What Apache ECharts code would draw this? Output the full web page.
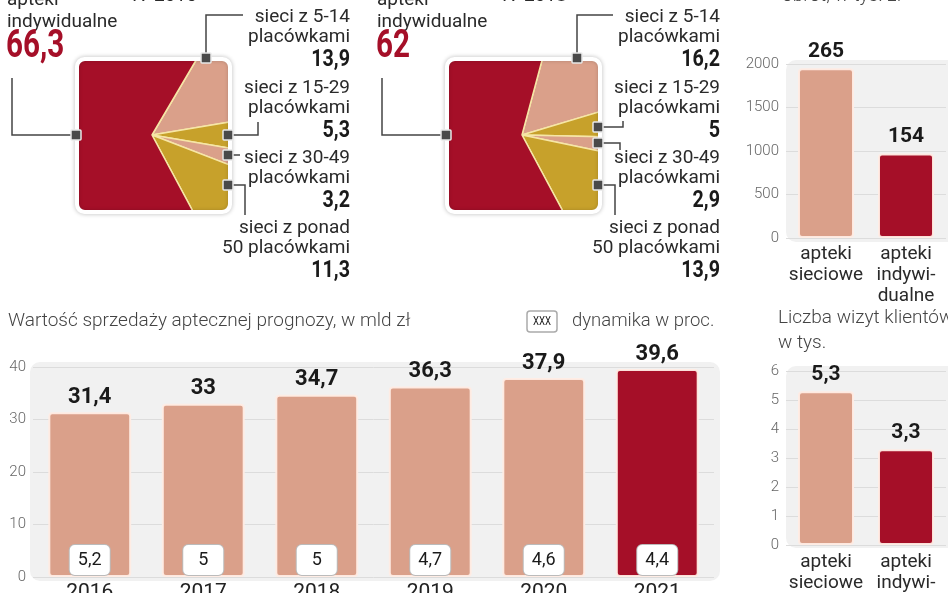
<!DOCTYPE html>
<html><head><meta charset="utf-8">
<script src="https://cdn.jsdelivr.net/npm/echarts@6/dist/echarts.min.js"></script>
<style>html,body{margin:0;padding:0;background:#fff}#c{width:948px;height:593px}</style>
</head><body><div id="c"></div><script>
// ---------- data ----------
const years = ['2016','2017','2018','2019','2020','2021'];
const salesValues = [31.4, 33, 34.7, 36.3, 37.9, 39.6];
const dynamics = [5.2, 5, 5, 4.7, 4.6, 4.4];
const pieCategories = [['sieci z 5-14','placówkami'],['sieci z 15-29','placówkami'],['sieci z 30-49','placówkami'],['sieci z ponad','50 placówkami'],['apteki','indywidualne']];
const pie2015 = [13.9, 5.3, 3.2, 11.3, 66.3];
const pie2018 = [16.2, 5, 2.9, 13.9, 62];
const pieYears = ['IV 2015', 'IV 2018'];
const pharmacyTypes = ['apteki\nsieciowe', 'apteki\nindywi-\ndualne'];
const turnoverValues = [1950, 970];
const turnoverLabels = ['265', '154'];
const visitsValues = [5.3, 3.3];
const salesYAxisTicks = [0, 10, 20, 30, 40];
const turnoverYAxisTicks = [0, 500, 1000, 1500, 2000];
const visitsYAxisTicks = [0, 1, 2, 3, 4, 5, 6];

// ---------- style ----------
const RED = '#A50F28', PINK = '#DAA08A', GOLD = '#C7A12B';
const pieColors = [PINK, GOLD, PINK, GOLD, RED];
const SANS = "Roboto,'Liberation Sans',sans-serif";
const fmt = v => String(v).replace('.', ',');

const chart = echarts.init(document.getElementById('c'), null, {renderer:'canvas'});

// pie layouts (annotation geometry)
const pies = [
  {data: pie2015, dx: 0, startAngle: 59.5,
   markers: [[206,58],[228,135],[228,155],[228,185],[76,135]],
   leaders: [[[206,58],[206,15],[243,15]], [[228,135],[258,135],[258,122]], [[228,155],[240,155]], [[228,185],[245,185],[245,215]], [[76,135],[12,135],[12,78]]]},
  {data: pie2018, dx: 370, startAngle: 75,
   markers: [[577,58],[598,127],[598,143],[598,185],[446,135]],
   leaders: [[[577,58],[577,15],[613,15]], [[598,127],[623,127],[623,121]], [[598,143],[620,143],[620,150]], [[598,185],[615,185],[615,215]], [[446,135],[382,135],[382,78]]]}
];
const SQ = {x:78, y:60, w:151, h:151, r:7};
const PIE_CENTER = [152, 135];
const labelRows = [17, 88, 158, 228]; // first line y of each right-side label block

const series = [];
const graphics = [];

pies.forEach((p, pi) => {
  series.push({
    type:'pie', center:[PIE_CENTER[0]+p.dx, PIE_CENTER[1]], radius:[0,112],
    startAngle:p.startAngle, clockwise:true, silent:true, animation:false, z:2,
    label:{show:false}, labelLine:{show:false},
    itemStyle:{borderColor:'#f6e6a6', borderWidth:1.5},
    data: p.data.map((v,i)=>({name:pieCategories[i].join(' '), value:v, itemStyle:{color:pieColors[i]}}))
  });
  graphics.push({type:'rect', z:50, silent:true,
    shape:{x:SQ.x+p.dx-30, y:SQ.y-30, width:SQ.w+60, height:SQ.h+60, r:SQ.r+30},
    style:{fill:null, stroke:'#fff', lineWidth:60}});
  graphics.push({type:'rect', z:51, silent:true,
    shape:{x:SQ.x+p.dx-1.5, y:SQ.y-1.5, width:SQ.w+3, height:SQ.h+3, r:SQ.r+1},
    style:{fill:null, stroke:'#fff', lineWidth:3, shadowBlur:4, shadowColor:'rgba(0,0,0,0.3)'}});
  graphics.push({type:'rect', z:52, silent:true,
    shape:{x:SQ.x+p.dx, y:SQ.y, width:SQ.w, height:SQ.h, r:SQ.r},
    style:{fill:null, stroke:'#fff', lineWidth:2}});
  p.leaders.forEach(pts => graphics.push({type:'polyline', z:60, silent:true, shape:{points:pts}, style:{stroke:'#444', lineWidth:1.5, fill:null}}));
  p.markers.forEach(m => graphics.push({type:'rect', z:61, silent:true, shape:{x:m[0]-5, y:m[1]-5, width:10, height:10, r:1}, style:{fill:'#4a4a4a', stroke:'#e8e8e8', lineWidth:1.5}}));
  for (let i=0;i<4;i++){
    const y0 = labelRows[i];
    [pieCategories[i][0], pieCategories[i][1]].forEach((t,k)=>graphics.push({type:'text', z:70, x:350+p.dx, y:y0+k*20,
      style:{text:t, font:`19px ${SANS}`, fill:'#2a2a2a', align:'right', verticalAlign:'middle'}}));
    graphics.push({type:'text', z:70, x:350+p.dx, y:y0+43, scaleX:0.82,
      style:{text:fmt(p.data[i]), font:`bold 24px ${SANS}`, fill:'#1a1a1a', align:'right', verticalAlign:'middle'}});
  }
  graphics.push({type:'text', z:70, x:7+p.dx, y:0, style:{text:pieCategories[4][0], font:`19px ${SANS}`, fill:'#2a2a2a', align:'left', verticalAlign:'middle'}});
  graphics.push({type:'text', z:70, x:7+p.dx, y:22, style:{text:pieCategories[4][1], font:`19px ${SANS}`, fill:'#2a2a2a', align:'left', verticalAlign:'middle'}});
  graphics.push({type:'text', z:70, x:6+p.dx, y:47, scaleX:0.76, style:{text:fmt(p.data[4]), font:`bold 39px ${SANS}`, fill:RED, align:'left', verticalAlign:'middle'}});
  graphics.push({type:'text', z:70, x:132+p.dx, y:-4, style:{text:pieYears[pi], font:`19px ${SANS}`, fill:'#2a2a2a', align:'left', verticalAlign:'middle'}});
});

// plot backgrounds
[[30,362,690,219],[786,60,175,182],[786,366,175,182]].forEach(b=>graphics.push({type:'rect', z:-10, silent:true,
  shape:{x:b[0], y:b[1], width:b[2], height:b[3], r:10}, style:{fill:'#f1f1f1'}}));

// titles
graphics.push({type:'text', z:70, x:8, y:321, style:{text:'Wartość sprzedaży aptecznej prognozy, w mld zł', font:`300 19px ${SANS}`, fill:'#444', align:'left', verticalAlign:'middle'}});
graphics.push({type:'rect', z:70, shape:{x:527, y:311, width:30, height:21, r:3}, style:{fill:'#fff', stroke:'#aaa', lineWidth:1.5}});
graphics.push({type:'text', z:71, x:542, y:322, scaleX:0.8, style:{text:'XXX', font:`12px ${SANS}`, fill:'#222', align:'center', verticalAlign:'middle'}});
graphics.push({type:'text', z:70, x:572, y:321, style:{text:'dynamika w proc.', font:`300 18.5px ${SANS}`, fill:'#444', align:'left', verticalAlign:'middle'}});
graphics.push({type:'text', z:70, x:778, y:318, style:{text:'Liczba wizyt klientów', font:`300 19px ${SANS}`, fill:'#444', align:'left', verticalAlign:'middle'}});
graphics.push({type:'text', z:70, x:778, y:343, style:{text:'w tys.', font:`300 19px ${SANS}`, fill:'#444', align:'left', verticalAlign:'middle'}});
graphics.push({type:'text', z:70, x:782, y:-4, style:{text:'obrót, w tys. zł', font:`300 19px ${SANS}`, fill:'#444', align:'left', verticalAlign:'middle'}});

const barItem = (color) => ({color, borderColor:'rgba(255,236,228,0.95)', borderWidth:2, borderRadius:3});
const yAxisBase = (gi, ticks) => ({type:'value', gridIndex:gi, min:ticks[0], max:ticks[ticks.length-1], interval:ticks[1]-ticks[0],
  axisLine:{show:false}, axisTick:{show:false},
  axisLabel:{fontSize:15, color:'#666', fontFamily:SANS, fontWeight:300, margin:7, formatter:v=>String(v)},
  splitLine:{lineStyle:{color:'#dcdcdc', width:1}}});

chart.setOption({
  animation:false,
  backgroundColor:'#fff',
  grid:[{left:33, top:367, width:681, height:210, outerBoundsMode:'none', containLabel:false},
        {left:786, top:64, width:160, height:174, outerBoundsMode:'none', containLabel:false},
        {left:786, top:371, width:160, height:174, outerBoundsMode:'none', containLabel:false}],
  xAxis:[
    {type:'category', gridIndex:0, data:years, axisLine:{show:false}, axisTick:{show:false},
     axisLabel:{fontSize:21, lineHeight:22, color:'#222', fontFamily:SANS, margin:5}},
    {type:'category', gridIndex:1, data:pharmacyTypes, axisLine:{show:false}, axisTick:{show:false},
     axisLabel:{fontSize:19, lineHeight:21, color:'#2a2a2a', fontFamily:SANS, margin:6, interval:0}},
    {type:'category', gridIndex:2, data:pharmacyTypes, axisLine:{show:false}, axisTick:{show:false},
     axisLabel:{fontSize:19, lineHeight:21, color:'#2a2a2a', fontFamily:SANS, margin:7, interval:0}}
  ],
  yAxis:[yAxisBase(0, salesYAxisTicks), yAxisBase(1, turnoverYAxisTicks), yAxisBase(2, visitsYAxisTicks)],
  series: series.concat([
    {type:'bar', xAxisIndex:0, yAxisIndex:0, barWidth:'73%', z:3,
     data: salesValues.map((v,i)=>({value:v, itemStyle:barItem(i===salesValues.length-1?RED:PINK)})),
     label:{show:true, position:'top', distance:4, formatter:p=>fmt(p.value), fontSize:22, fontWeight:'bold', fontFamily:SANS, color:'#1a1a1a'}},
    {type:'bar', xAxisIndex:0, yAxisIndex:0, barWidth:'73%', barGap:'-100%', z:4, silent:true,
     data: salesValues.map(v=>v), itemStyle:{color:'rgba(0,0,0,0)', borderWidth:0},
     label:{show:true, position:'insideBottom', distance:2, formatter:p=>fmt(dynamics[p.dataIndex]),
       fontSize:18, fontFamily:SANS, color:'#1a1a1a', backgroundColor:'#fff', borderColor:'#bbb', borderWidth:1,
       borderRadius:5, width:40, height:22, lineHeight:22, padding:[4,0], align:'center'}},
    {type:'bar', xAxisIndex:1, yAxisIndex:1, barWidth:'70%', z:3,
     data: turnoverValues.map((v,i)=>({value:v, itemStyle:barItem(i===0?PINK:RED)})),
     label:{show:true, position:'top', distance:6, formatter:p=>turnoverLabels[p.dataIndex], fontSize:21, fontWeight:'bold', fontFamily:SANS, color:'#1a1a1a'}},
    {type:'bar', xAxisIndex:2, yAxisIndex:2, barWidth:'70%', z:3,
     data: visitsValues.map((v,i)=>({value:v, itemStyle:barItem(i===0?PINK:RED)})),
     label:{show:true, position:'top', distance:6, formatter:p=>fmt(p.value), fontSize:21, fontWeight:'bold', fontFamily:SANS, color:'#1a1a1a'}}
  ]),
  graphic:{elements:graphics}
});
</script></body></html>
